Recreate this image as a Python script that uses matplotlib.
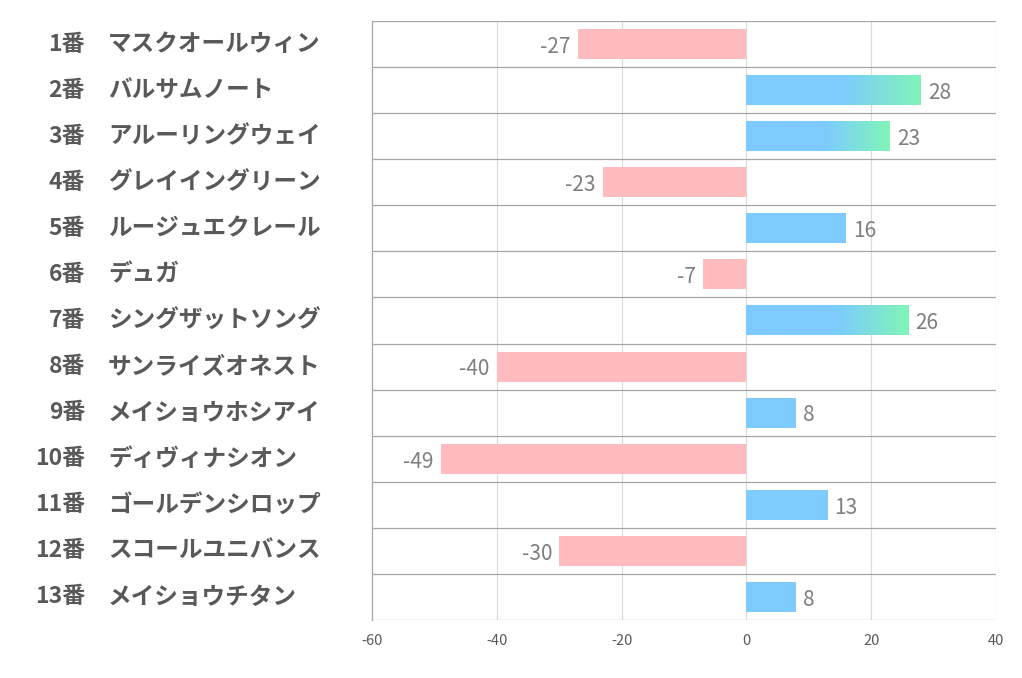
import numpy as np
import matplotlib.pyplot as plt
from matplotlib.colors import LinearSegmentedColormap
from matplotlib.transforms import blended_transform_factory

plt.rcParams['font.family'] = ['Noto Sans CJK JP', 'DejaVu Sans']

###=========== data ===========
nums = ['1番', '2番', '3番', '4番', '5番', '6番', '7番', '8番', '9番', '10番', '11番', '12番', '13番']
names = ['マスクオールウィン', 'バルサムノート', 'アルーリングウェイ', 'グレイイングリーン',
         'ルージュエクレール', 'デュガ', 'シングザットソング', 'サンライズオネスト',
         'メイショウホシアイ', 'ディヴィナシオン', 'ゴールデンシロップ', 'スコールユニバンス',
         'メイショウチタン']
values = [-27, 28, 23, -23, 16, -7, 26, -40, 8, -49, 13, -30, 8]
xticks = [-60, -40, -20, 0, 20, 40]

pink = '#FFBBBE'
blue = '#7DCBFF'
green = '#80F5B8'
txtc = '#595959'

fig = plt.figure(figsize=(10.22, 6.78), dpi=100)
ax = fig.add_axes([372/1022, 1-620/678, (996-372)/1022, (620-21)/678])

h = 0.65
grad = LinearSegmentedColormap.from_list('g', [(0, blue), (0.55, blue), (1, green)])
for i, v in enumerate(values):
    if v < 0:
        ax.barh(i, v, height=h, color=pink, zorder=2)
        ax.annotate(str(v), (v, i), xytext=(-5, -2), textcoords='offset points',
                    ha='right', va='center', color='#7f7f7f', fontsize=15)
    else:
        if v > 20:
            g = np.linspace(0, 1, 256).reshape(1, -1)
            ax.imshow(g, cmap=grad, extent=[0, v, i + h/2, i - h/2], aspect='auto', zorder=2)
        else:
            ax.barh(i, v, height=h, color=blue, zorder=2)
        ax.annotate(str(v), (v, i), xytext=(5, -2), textcoords='offset points',
                    ha='left', va='center', color='#7f7f7f', fontsize=15)

ax.set_xlim(-60, 40)
ax.set_ylim(len(values) - 0.5, -0.5)
ax.set_xticks(xticks)
ax.set_xticklabels([str(t) for t in xticks], color=txtc, fontsize=10.5)
ax.tick_params(axis='x', length=0, pad=10)
ax.set_yticks([])
for t in xticks[1:]:
    ax.axvline(t, color='#d9d9d9', lw=0.8, zorder=1)
for k in range(len(values) + 1):
    ax.axhline(k - 0.5, color='#a6a6a6', lw=0.9, zorder=1)
for s in ['top', 'right', 'bottom']:
    ax.spines[s].set_visible(False)
ax.spines['left'].set_color('#a6a6a6')
ax.spines['left'].set_linewidth(0.9)

tr = blended_transform_factory(fig.transFigure, ax.transData)
for i in range(len(values)):
    ax.text(85/1022, i, nums[i], transform=tr, ha='right', va='center',
            fontsize=16.5, fontweight='bold', color=txtc)
    ax.text(108/1022, i, names[i], transform=tr, ha='left', va='center',
            fontsize=17, fontweight='bold', color=txtc)

fig.savefig('out.png', dpi=100)
